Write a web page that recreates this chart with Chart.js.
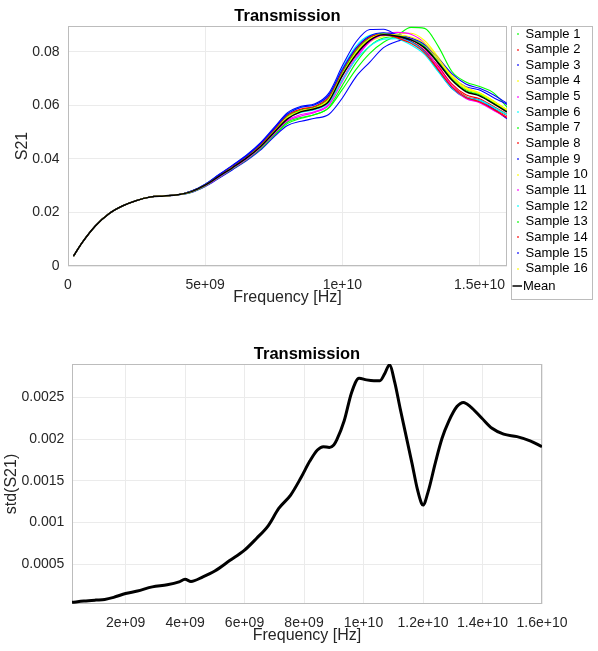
<!DOCTYPE html>
<html>
<head>
<meta charset="utf-8">
<title>Transmission</title>
<script src="https://cdn.jsdelivr.net/npm/chart.js@4.4.1/dist/chart.umd.min.js"></script>
<style>
  html, body { margin: 0; padding: 0; background: #fff; }
  #wrap { position: relative; width: 598px; height: 651px; overflow: hidden; }
  canvas { position: absolute; left: 0; }
  #s21Chart { top: 0; }
  #stdChart { top: 325px; }
</style>
</head>
<body>
<div id="wrap">
  <canvas id="s21Chart" width="598" height="325"></canvas>
  <canvas id="stdChart" width="598" height="326"></canvas>
</div>
<script>
// ---- S21 magnitude per sample -------------------------------------------
const freqHz = [0.2e9, 0.5e9, 1e9, 1.5e9, 2e9, 2.5e9, 3e9, 3.5e9, 4e9,
                4.5e9, 5e9, 5.5e9, 6e9, 6.5e9, 7e9, 7.5e9, 8e9, 8.5e9, 9e9, 9.5e9,
                10e9, 10.5e9, 11e9, 11.5e9, 12e9, 12.5e9, 13e9, 13.5e9, 14e9,
                14.5e9, 15e9, 15.5e9, 16e9];

// Up to 4 GHz all samples coincide
const lowBandS21 = [0.0037, 0.0085, 0.0150, 0.0196, 0.0225, 0.0245, 0.0258, 0.0262, 0.0266];

// From 4.5 GHz to 16 GHz, one list per sample
const s21Sample1  = [0.0276, 0.0298, 0.0330, 0.0362, 0.0396, 0.0436, 0.0486, 0.0532, 0.0552, 0.0566, 0.0590, 0.0660, 0.0735, 0.0795, 0.0836, 0.0862, 0.0892, 0.0888, 0.0820, 0.0726, 0.0688, 0.0671, 0.0648, 0.0594];
const s21Sample2  = [0.0279, 0.0304, 0.0338, 0.0372, 0.0408, 0.0452, 0.0507, 0.0562, 0.0584, 0.0594, 0.0628, 0.0724, 0.0804, 0.0852, 0.0866, 0.0855, 0.0836, 0.0800, 0.0737, 0.0672, 0.0634, 0.0619, 0.0590, 0.0562];
const s21Sample3  = [0.0275, 0.0297, 0.0328, 0.0360, 0.0393, 0.0432, 0.0482, 0.0525, 0.0541, 0.0552, 0.0566, 0.0628, 0.0708, 0.0762, 0.0816, 0.0840, 0.0850, 0.0826, 0.0770, 0.0705, 0.0670, 0.0658, 0.0630, 0.0604];
const s21Sample4  = [0.0278, 0.0301, 0.0334, 0.0367, 0.0402, 0.0444, 0.0497, 0.0551, 0.0576, 0.0588, 0.0620, 0.0712, 0.0790, 0.0838, 0.0858, 0.0866, 0.0870, 0.0842, 0.0780, 0.0712, 0.0668, 0.0648, 0.0618, 0.0584];
const s21Sample5  = [0.0277, 0.0299, 0.0331, 0.0364, 0.0398, 0.0439, 0.0490, 0.0541, 0.0561, 0.0574, 0.0600, 0.0690, 0.0775, 0.0838, 0.0866, 0.0873, 0.0866, 0.0832, 0.0752, 0.0672, 0.0628, 0.0612, 0.0584, 0.0552];
const s21Sample6  = [0.0280, 0.0306, 0.0341, 0.0376, 0.0413, 0.0458, 0.0514, 0.0570, 0.0594, 0.0603, 0.0640, 0.0740, 0.0822, 0.0862, 0.0868, 0.0850, 0.0826, 0.0790, 0.0725, 0.0662, 0.0628, 0.0618, 0.0592, 0.0564];
const s21Sample7  = [0.0276, 0.0299, 0.0331, 0.0363, 0.0397, 0.0437, 0.0488, 0.0537, 0.0555, 0.0566, 0.0592, 0.0675, 0.0760, 0.0822, 0.0852, 0.0857, 0.0848, 0.0820, 0.0762, 0.0700, 0.0660, 0.0645, 0.0615, 0.0582];
const s21Sample8  = [0.0278, 0.0303, 0.0336, 0.0370, 0.0405, 0.0448, 0.0502, 0.0558, 0.0582, 0.0592, 0.0624, 0.0718, 0.0798, 0.0848, 0.0864, 0.0856, 0.0840, 0.0806, 0.0745, 0.0680, 0.0640, 0.0625, 0.0597, 0.0568];
const s21Sample9  = [0.0280, 0.0306, 0.0342, 0.0377, 0.0414, 0.0459, 0.0516, 0.0573, 0.0597, 0.0606, 0.0645, 0.0748, 0.0838, 0.0884, 0.0885, 0.0862, 0.0838, 0.0800, 0.0730, 0.0664, 0.0630, 0.0620, 0.0588, 0.0550];
const s21Sample10 = [0.0279, 0.0303, 0.0337, 0.0371, 0.0406, 0.0449, 0.0503, 0.0559, 0.0583, 0.0593, 0.0625, 0.0720, 0.0800, 0.0850, 0.0866, 0.0862, 0.0852, 0.0828, 0.0770, 0.0705, 0.0662, 0.0646, 0.0616, 0.0584];
const s21Sample11 = [0.0277, 0.0300, 0.0332, 0.0365, 0.0399, 0.0441, 0.0493, 0.0545, 0.0566, 0.0577, 0.0605, 0.0698, 0.0783, 0.0840, 0.0862, 0.0860, 0.0848, 0.0812, 0.0740, 0.0668, 0.0626, 0.0610, 0.0582, 0.0556];
const s21Sample12 = [0.0278, 0.0302, 0.0335, 0.0368, 0.0403, 0.0445, 0.0498, 0.0552, 0.0574, 0.0584, 0.0610, 0.0695, 0.0772, 0.0822, 0.0848, 0.0850, 0.0836, 0.0798, 0.0728, 0.0665, 0.0632, 0.0620, 0.0594, 0.0566];
const s21Sample13 = [0.0279, 0.0303, 0.0337, 0.0371, 0.0407, 0.0450, 0.0505, 0.0560, 0.0584, 0.0595, 0.0628, 0.0725, 0.0806, 0.0854, 0.0870, 0.0862, 0.0846, 0.0816, 0.0758, 0.0696, 0.0655, 0.0640, 0.0610, 0.0580];
const s21Sample14 = [0.0279, 0.0304, 0.0338, 0.0373, 0.0409, 0.0453, 0.0508, 0.0564, 0.0587, 0.0597, 0.0632, 0.0730, 0.0810, 0.0856, 0.0866, 0.0852, 0.0832, 0.0796, 0.0732, 0.0668, 0.0630, 0.0614, 0.0586, 0.0555];
const s21Sample15 = [0.0280, 0.0305, 0.0340, 0.0375, 0.0411, 0.0456, 0.0512, 0.0568, 0.0593, 0.0603, 0.0638, 0.0735, 0.0815, 0.0860, 0.0872, 0.0866, 0.0852, 0.0828, 0.0776, 0.0718, 0.0680, 0.0664, 0.0640, 0.0608];
const s21Sample16 = [0.0278, 0.0302, 0.0335, 0.0369, 0.0404, 0.0446, 0.0500, 0.0555, 0.0579, 0.0590, 0.0621, 0.0715, 0.0795, 0.0846, 0.0866, 0.0864, 0.0856, 0.0832, 0.0775, 0.0708, 0.0664, 0.0646, 0.0615, 0.0582];

// Mean over the 16 samples, full band
const meanS21 = [0.0037, 0.0085, 0.0150, 0.0196, 0.0225, 0.0245, 0.0258, 0.0262, 0.0266,
                 0.0278, 0.0302, 0.0335, 0.0368, 0.0403, 0.0445, 0.0498, 0.0550, 0.0577, 0.0588, 0.0615,
                 0.0712, 0.0790, 0.0843, 0.0864, 0.0859, 0.0845, 0.0815, 0.0758, 0.0694,
                 0.0652, 0.0636, 0.0607, 0.0576];

const s21FreqTicks = [0, 5e9, 1e10, 1.5e10];
const s21FreqTickLabels = ['0', '5e+09', '1e+10', '1.5e+10'];
const s21Ticks = [0, 0.02, 0.04, 0.06, 0.08];
const s21TickLabels = ['0', '0.02', '0.04', '0.06', '0.08'];

// ---- Standard deviation of S21 across samples ---------------------------
const stdFreqHz = [0.2e9, 0.6e9, 1.0e9, 1.3e9, 1.6e9, 2.0e9, 2.4e9, 2.9e9, 3.4e9, 3.8e9,
                   4.0e9, 4.2e9, 4.6e9, 5.0e9, 5.5e9, 6.0e9, 6.4e9, 6.8e9, 7.15e9, 7.55e9,
                   7.9e9, 8.2e9, 8.45e9, 8.65e9, 8.85e9, 9.0e9, 9.1e9, 9.35e9, 9.6e9, 9.85e9,
                   10.1e9, 10.35e9, 10.55e9, 10.72e9, 10.87e9, 11.05e9, 11.23e9, 11.4e9, 11.63e9, 11.81e9,
                   11.95e9, 12.0e9, 12.18e9, 12.41e9, 12.64e9, 12.86e9, 13.14e9, 13.36e9, 13.59e9, 13.98e9,
                   14.32e9, 14.71e9, 15.16e9, 15.6e9, 16.0e9];
const stdS21 = [0.000045, 0.000060, 0.000072, 0.000080, 0.000105, 0.000150, 0.000180, 0.000230, 0.000255, 0.000290,
                0.000320, 0.000295, 0.000350, 0.000420, 0.000545, 0.000670, 0.000810, 0.000965, 0.001170, 0.001330,
                0.001540, 0.001740, 0.001870, 0.001910, 0.001900, 0.001930, 0.001990, 0.002220, 0.002560, 0.002730,
                0.002710, 0.002700, 0.002700, 0.002790, 0.002890, 0.002680, 0.002370, 0.002090, 0.001710, 0.001400,
                0.001230, 0.001210, 0.001380, 0.001710, 0.002010, 0.002210, 0.002390, 0.002440, 0.002390, 0.002250,
                0.002130, 0.002060, 0.002030, 0.001980, 0.001910];

const stdFreqTicks = [2e9, 4e9, 6e9, 8e9, 1e10, 1.2e10, 1.4e10, 1.6e10];
const stdFreqTickLabels = ['2e+09', '4e+09', '6e+09', '8e+09', '1e+10', '1.2e+10', '1.4e+10', '1.6e+10'];
const stdTicks = [0.0005, 0.001, 0.0015, 0.002, 0.0025];
const stdTickLabels = ['0.0005', '0.001', '0.0015', '0.002', '0.0025'];

// ---- Styling ---------------------------------------------------------------
const FONT = "'Liberation Sans', Arial, Helvetica, sans-serif";
const TEXT = '#262626';
const GRID = '#ebebeb';
const FRAME = '#bcbcbc';
const sampleColors = ['#00ff00', '#ff0000', '#0000ff', '#ffff00', '#ff00ff', '#00ffff'];

Chart.defaults.font.family = FONT;
Chart.defaults.color = TEXT;
Chart.defaults.animation = false;

// Box around the axes and the bold title above them
const axesFrame = {
  id: 'axesFrame',
  beforeDatasetsDraw(chart) {
    const { ctx, chartArea: a } = chart;
    ctx.save();
    ctx.strokeStyle = FRAME;
    ctx.lineWidth = 1;
    ctx.strokeRect(Math.round(a.left) + 0.5, Math.round(a.top) + 0.5,
                   Math.round(a.right - a.left) - 1, Math.round(a.bottom - a.top) - 1);
    ctx.restore();
  },
  afterDraw(chart, args, opts) {
    const { ctx, chartArea: a } = chart;
    ctx.save();
    ctx.fillStyle = '#000';
    ctx.font = 'bold 16.5px ' + FONT;
    ctx.textAlign = 'center';
    ctx.textBaseline = 'alphabetic';
    ctx.fillText(opts.text, (a.left + a.right) / 2, opts.baseline);
    ctx.restore();
  }
};

// Legend box on the right of the S21 axes
const sampleLegend = {
  id: 'sampleLegend',
  afterDraw(chart, args, opts) {
    const { ctx } = chart;
    ctx.save();
    ctx.fillStyle = '#fff';
    ctx.fillRect(opts.left, opts.top, opts.width, opts.height);
    ctx.strokeStyle = FRAME;
    ctx.lineWidth = 1;
    ctx.strokeRect(opts.left + 0.5, opts.top + 0.5, opts.width, opts.height);
    ctx.font = '13px ' + FONT;
    ctx.textBaseline = 'middle';
    ctx.textAlign = 'left';
    const items = chart.data.datasets.filter(d => d.label !== 'Mean');
    items.forEach((d, i) => {
      const y = opts.firstRow + i * opts.rowStep;
      ctx.fillStyle = d.borderColor;
      ctx.fillRect(opts.markerX - 0.75, Math.round(y) - 0.75, 1.5, 1.5);
      ctx.fillStyle = '#000';
      ctx.fillText(d.label, opts.textX, y);
    });
    const mean = chart.data.datasets.find(d => d.label === 'Mean');
    ctx.strokeStyle = mean.borderColor;
    ctx.lineWidth = 1.5;
    ctx.beginPath();
    ctx.moveTo(opts.markerX - 5.5, opts.meanRow);
    ctx.lineTo(opts.markerX + 4, opts.meanRow);
    ctx.stroke();
    ctx.fillStyle = '#000';
    ctx.fillText(mean.label, opts.textX - 2.5, opts.meanRow);
    ctx.restore();
  }
};

function fixedTicks(values) {
  return scale => { scale.ticks = values.map(v => ({ value: v })); };
}

// ---- S21 chart -------------------------------------------------------------
const sampleSeries = [s21Sample1, s21Sample2, s21Sample3, s21Sample4, s21Sample5, s21Sample6,
                      s21Sample7, s21Sample8, s21Sample9, s21Sample10, s21Sample11, s21Sample12,
                      s21Sample13, s21Sample14, s21Sample15, s21Sample16];

const s21Datasets = sampleSeries.map((upper, i) => {
  const values = lowBandS21.concat(upper);
  return {
    label: 'Sample ' + (i + 1),
    data: freqHz.map((f, j) => ({ x: f, y: values[j] })),
    borderColor: sampleColors[i % sampleColors.length],
    borderWidth: 1.1,
    pointRadius: 0,
    cubicInterpolationMode: 'monotone',
    order: sampleSeries.length - i
  };
});
s21Datasets.push({
  label: 'Mean',
  data: freqHz.map((f, j) => ({ x: f, y: meanS21[j] })),
  borderColor: '#000000',
  borderWidth: 1.5,
  pointRadius: 0,
  cubicInterpolationMode: 'monotone',
  order: 0
});

new Chart(document.getElementById('s21Chart'), {
  type: 'line',
  data: { datasets: s21Datasets },
  plugins: [axesFrame, sampleLegend],
  options: {
    responsive: false,
    layout: { padding: { left: 0, top: 26, right: 91, bottom: 0 } },
    plugins: {
      legend: { display: false },
      tooltip: { enabled: false },
      axesFrame: { text: 'Transmission', baseline: 21 },
      sampleLegend: { left: 511, top: 26, width: 81, height: 273,
                      markerX: 518, textX: 525.5, firstRow: 34, rowStep: 15.64, meanRow: 286 }
    },
    scales: {
      x: {
        type: 'linear', min: 0, max: 16e9,
        afterBuildTicks: fixedTicks(s21FreqTicks),
        afterFit: s => { s.height = 59; },
        ticks: { callback: (v, i) => s21FreqTickLabels[i], font: { size: 14 }, padding: 11,
                 maxRotation: 0, autoSkip: false },
        grid: { color: GRID, drawTicks: false },
        border: { display: false },
        title: { display: true, text: 'Frequency [Hz]', font: { size: 16 },
                 padding: { top: 0, bottom: 17.6 } }
      },
      y: {
        type: 'linear', min: 0, max: 0.0897,
        afterBuildTicks: fixedTicks(s21Ticks),
        afterFit: s => { s.width = 68; },
        ticks: { callback: (v, i) => s21TickLabels[i], font: { size: 14 }, padding: 8.5 },
        grid: { color: GRID, drawTicks: false },
        border: { display: false },
        title: { display: true, text: 'S21', font: { size: 16 }, padding: { top: 13, bottom: 0 } }
      }
    }
  }
});

// ---- std(S21) chart --------------------------------------------------------
new Chart(document.getElementById('stdChart'), {
  type: 'line',
  data: {
    datasets: [{
      label: 'std(S21)',
      data: stdFreqHz.map((f, j) => ({ x: f, y: stdS21[j] })),
      borderColor: '#000000',
      borderWidth: 3,
      pointRadius: 0,
      cubicInterpolationMode: 'monotone'
    }]
  },
  plugins: [axesFrame],
  options: {
    responsive: false,
    layout: { padding: { left: 0, top: 39, right: 56, bottom: 0 } },
    plugins: {
      legend: { display: false },
      tooltip: { enabled: false },
      axesFrame: { text: 'Transmission', baseline: 33.6 }
    },
    scales: {
      x: {
        type: 'linear', min: 0.2e9, max: 16e9,
        afterBuildTicks: fixedTicks(stdFreqTicks),
        afterFit: s => { s.height = 47; },
        ticks: { callback: (v, i) => stdFreqTickLabels[i], font: { size: 14 }, padding: 10.5,
                 maxRotation: 0, autoSkip: false },
        grid: { color: GRID, drawTicks: false },
        border: { display: false },
        title: { display: true, text: 'Frequency [Hz]', font: { size: 16 },
                 padding: { top: 0, bottom: 5.4 } }
      },
      y: {
        type: 'linear', min: 0.000025, max: 0.0029,
        afterBuildTicks: fixedTicks(stdTicks),
        afterFit: s => { s.width = 72; },
        ticks: { callback: (v, i) => stdTickLabels[i], font: { size: 14 }, padding: 7.7 },
        grid: { color: GRID, drawTicks: false },
        border: { display: false },
        title: { display: true, text: 'std(S21)', font: { size: 16 }, padding: { top: 1.5, bottom: 0 } }
      }
    }
  }
});
</script>
</body>
</html>
